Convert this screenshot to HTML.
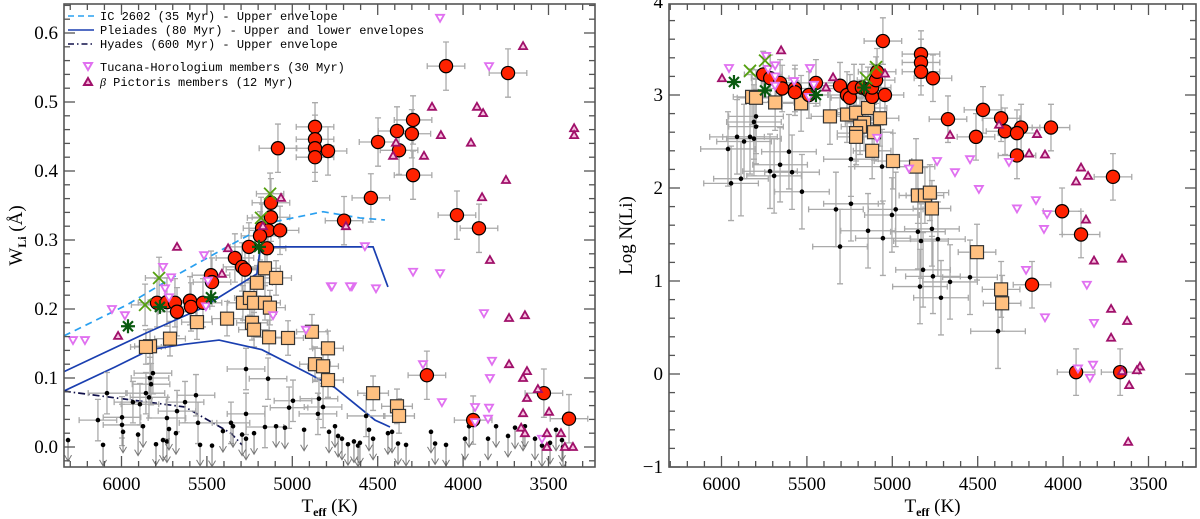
<!DOCTYPE html>
<html><head><meta charset="utf-8"><style>
html,body{margin:0;padding:0;background:#fff;}
svg{display:block;}
text{font-family:"Liberation Serif",serif;fill:#000;}
.leg{font-family:"Liberation Mono",monospace;font-size:12px;}
</style></head><body>
<svg id="fig" width="1200" height="519" viewBox="0 0 1200 519" xmlns="http://www.w3.org/2000/svg">
<defs>
<clipPath id="clipL"><rect x="64" y="4" width="531" height="463"/></clipPath>
<clipPath id="clipR"><rect x="669" y="4" width="527" height="463"/></clipPath>
</defs>
<g id="panelL"></g>
<g id="panelR"></g>
<g>
  <line x1="68" y1="16" x2="94" y2="16" stroke="#2aa0f0" stroke-width="1.6" stroke-dasharray="6,4"/>
  <text class="leg" x="100" y="20">IC 2602 (35 Myr) - Upper envelope</text>
  <line x1="68" y1="30" x2="94" y2="30" stroke="#1a3fb0" stroke-width="1.6"/>
  <text class="leg" x="100" y="34">Pleiades (80 Myr) - Upper and lower envelopes</text>
  <line x1="68" y1="44" x2="94" y2="44" stroke="#10104a" stroke-width="1.6" stroke-dasharray="6,3,1.5,3"/>
  <text class="leg" x="100" y="48">Hyades (600 Myr) - Upper envelope</text>
  <path d="M84,63 L92,63 L88,70 Z" fill="none" stroke="#e070f0" stroke-width="2"/>
  <text class="leg" x="100" y="71">Tucana-Horologium members (30 Myr)</text>
  <path d="M84,85 L92,85 L88,78 Z" fill="#f4b0d8" stroke="#a0106a" stroke-width="2"/>
  <text class="leg" x="100" y="86"><tspan font-family="Liberation Serif" font-style="italic">β</tspan> Pictoris members (12 Myr)</text>
</g>
</svg>
<script>
// ---------- LEFT PANEL DATA (Teff [K], W_Li [Å]) ----------
const redT_L = [4100,3737,4867,4867,4867,4867,4791,4498,4387,4293,4300,4375,4293,4540,5084,4036,3907,4212,3941,3527,3380,4697,
  5125,5125,5177,5142,5072,5189,5148,5254,5336,5294,5277,5476,5470,5792,5734,5687,5675,5599,5593,5523];
const redW_L = [0.552,0.542,0.464,0.446,0.433,0.420,0.429,0.442,0.458,0.474,0.454,0.430,0.394,0.361,0.433,0.336,0.317,0.104,0.039,0.078,0.041,0.328,
  0.354,0.333,0.317,0.314,0.314,0.306,0.288,0.290,0.274,0.261,0.257,0.249,0.239,0.209,0.210,0.209,0.196,0.212,0.203,0.209];
const orgT_L = [5160,5095,5207,5289,5248,5224,5160,5131,5382,5558,5236,5224,5136,5025,5716,5833,5857,4885,4791,4867,4820,4791,4527,4387,4375];
const orgW_L = [0.259,0.245,0.238,0.209,0.216,0.209,0.209,0.202,0.186,0.181,0.180,0.170,0.159,0.158,0.157,0.146,0.145,0.167,0.143,0.120,0.117,0.097,0.078,0.059,0.045];
const blkT_L = [5816,5833,5827,5857,5839,6085,5933,5892,5271,5142,4996,5019,5564,5628,5675,5734,6138,5997,5997,5271,4844,4820,4850,4568,5552,5359,5160];
const blkW_L = [0.107,0.100,0.091,0.078,0.072,0.078,0.065,0.062,0.113,0.099,0.067,0.057,0.075,0.065,0.052,0.042,0.039,0.043,0.032,0.048,0.070,0.058,0.048,0.045,0.035,0.035,0.029];
const limT_L = [6313,6108,5991,5903,5874,5798,5757,5734,5722,5681,5540,5470,5406,5347,5294,5271,5224,5095,5043,4931,4785,4750,4732,4709,4674,4639,4615,4604,4551,4527,4440,4416,4381,4334,4188,4164,4100,3989,3965,3854,3807,3737,3696,3649,3638,3579,3538,3491,3456,3421,3415];
const limW_L = [0.010,0.003,0.022,0.018,0.030,0.004,0.010,0.008,0.026,0.020,0.003,0.002,0.023,0.030,0.018,0.012,0.020,0.030,0.028,0.025,0.022,0.030,0.016,0.012,0.004,0.008,0.002,0.006,0.025,0.012,0.020,0.022,0.005,0.003,0.022,0.005,0.003,0.012,0.030,0.012,0.030,0.016,0.028,0.025,0.030,0.012,0.002,0.006,0.025,0.010,0.000];
const tucT_L = [4135,3848,4293,4135,4774,4651,4510,3878,4235,3831,3843,4124,3930,3848,3854,3930,3538,4920,5113,5506,5722,5745,5710,5757,5494,6056,5980,6284,6214,4575,5517,4768,4662];
const tucW_L = [0.622,0.552,0.254,0.252,0.233,0.233,0.230,0.194,0.120,0.125,0.100,0.065,0.058,0.057,0.041,0.036,0.012,0.170,0.191,0.204,0.217,0.230,0.246,0.261,0.241,0.200,0.191,0.155,0.155,0.291,0.278,0.233,0.233];
const picT_L = [4182,3919,3883,3649,3350,3350,4130,3954,4393,4410,4229,3749,3889,5675,5376,5172,5066,4686,5412,6020,3843,3731,3638,3731,3626,3649,3562,3626,3649,3497,3509,3509,3427,3404,3357,3660,3638];
const picW_L = [0.493,0.493,0.484,0.581,0.462,0.452,0.452,0.441,0.441,0.422,0.422,0.387,0.362,0.290,0.288,0.320,0.361,0.320,0.251,0.161,0.271,0.187,0.191,0.120,0.110,0.100,0.084,0.071,0.049,0.051,0.020,0.000,0.020,0.000,0.000,0.028,0.020];
const xT_L = [5130,5183,5780,5862];
const xW_L = [0.367,0.332,0.245,0.206];
const astT_L = [5195,5476,5775,5962];
const astW_L = [0.290,0.217,0.203,0.175];
const ic2602T = [6337,5968,5657,5382,5113,4820,4604,4458];
const ic2602W = [0.161,0.206,0.252,0.290,0.326,0.341,0.332,0.329];
const pleUpT = [6338,5857,5540,5207,5189,5113,4527,4440];
const pleUpW = [0.109,0.165,0.200,0.251,0.286,0.290,0.290,0.232];
const pleLoT = [6338,6038,5833,5628,5429,5178,4909,4750,4516,4428];
const pleLoW = [0.081,0.116,0.141,0.149,0.155,0.141,0.107,0.086,0.039,0.029];
const hyaT = [6338,5628,5359,5294];
const hyaW = [0.081,0.058,0.020,0.003];
const xTicks = [6000,5500,5000,4500,4000,3500];
const yTicksL = [0.0,0.1,0.2,0.3,0.4,0.5,0.6];
const yTicksR = [-1,0,1,2,3,4];

// ---------- RIGHT PANEL DATA (Teff [K], log N(Li)) ----------
const redT_R = [5055,4832,4832,4832,4762,4674,4469,4510,4363,4340,4246,4270,4270,4071,3708,4006,3895,4182,3924,3666,
  5756,5715,5657,5645,5570,5570,5488,5447,5306,5265,5248,5224,5178,5142,5118,5118,5095,5089,5043];
const redL_R = [3.58,3.44,3.35,3.25,3.18,2.74,2.84,2.55,2.75,2.61,2.65,2.59,2.35,2.65,2.12,1.75,1.50,0.96,0.02,0.02,
  3.22,3.18,3.13,3.07,3.07,3.03,3.00,3.13,3.10,3.00,2.97,3.08,3.08,3.05,2.98,3.08,3.16,3.25,3.00];
const orgT_R = [5821,5798,5686,5534,5365,5265,5212,5142,5165,5189,5212,5212,5107,5072,5118,4996,4861,4850,4809,4780,4768,4504,4363,4357];
const orgL_R = [2.98,2.97,2.92,2.91,2.77,2.79,2.81,2.86,2.70,2.66,2.59,2.55,2.60,2.75,2.40,2.29,2.23,1.92,1.92,1.95,1.78,1.31,0.91,0.76];
const blkT_R = [5962,5944,5886,5909,5868,5833,5810,5810,5798,5798,5716,5692,5657,5605,5587,5529,5330,5242,5242,5142,5060,5055,5002,4980,5306,4850,4768,4733,4832,4820,4762,4662,4545,4838,4715,4381];
const blkL_R = [2.42,2.05,2.10,2.55,2.50,2.55,2.53,2.71,2.77,2.66,2.18,2.13,2.25,2.39,2.17,1.96,1.77,2.31,1.83,1.54,2.23,1.46,1.71,1.77,1.37,1.53,1.56,1.45,1.43,1.12,1.05,0.99,1.04,0.94,0.82,0.46];
const tucT_R = [5956,5739,5727,5686,5686,5482,5575,5459,5488,5686,5089,4902,4738,4633,4545,4493,4317,4159,4270,4094,4112,4217,3861,4106,3819,3825,3843,3913];
const tucL_R = [3.29,3.42,3.28,3.32,3.20,3.29,3.15,3.11,2.98,3.10,2.54,2.21,2.29,2.17,2.31,1.99,2.28,1.87,1.78,1.72,1.56,1.12,0.96,0.61,0.55,0.10,-0.04,0.06];
const picT_R = [5997,5651,5347,5388,5043,4662,4375,4153,4199,4106,3895,3854,3924,3866,3819,3655,3719,3719,3625,3550,3568,3655,3613,3619];
const picL_R = [3.18,3.48,3.19,3.08,3.23,2.57,2.68,2.58,2.37,2.36,2.22,2.13,2.07,1.66,1.22,1.24,0.70,0.39,0.57,0.08,0.04,0.03,-0.12,-0.73];
const xT_R = [5833,5745,5095,5153];
const xL_R = [3.26,3.37,3.30,3.18];
const astT_R = [5927,5745,5447,5165];
const astL_R = [3.14,3.05,3.00,3.08];

// ---------- AXES ----------
const SVGNS = "http://www.w3.org/2000/svg";
function xL(T){ return 121.5 + (6000 - T) * 0.1708; }
function xR(T){ return 721.5 + (6000 - T) * 0.1708; }
function yL(W){ return 447 - W * 690; }
function yR(L){ return 374 - L * 93; }

function mk(parent, tag, attrs){
  const e = document.createElementNS(SVGNS, tag);
  for (const k in attrs) e.setAttribute(k, attrs[k]);
  parent.appendChild(e);
  return e;
}

function drawAxes(g, X, Y, x0, x1, y0, y1, yMin, yMax, yMaj, yMin2, yTicks, yFmt, titleX, titleHTML){
  const ax = mk(g, 'g', {});
  
  
  mk(ax, 'rect', {x:x0, y:y0, width:x1-x0, height:y1-y0, fill:'none', stroke:'#555', 'stroke-width':1.6});
  // x ticks
  for (let T = 3300; T <= 6300; T += 100){
    const x = X(T); if (x < x0 || x > x1) continue;
    const big = T % 500 === 0;
    const l = big ? 11 : 6;
    mk(ax, 'line', {x1:x, y1:y1, x2:x, y2:y1-l, stroke:'#555', 'stroke-width':1.3});
    mk(ax, 'line', {x1:x, y1:y0, x2:x, y2:y0+l, stroke:'#555', 'stroke-width':1.3});
  }
  xTicks.forEach(T => {
    const t = mk(ax, 'text', {x:X(T), y:y1+23, 'text-anchor':'middle', 'font-size':19});
    t.textContent = T;
    
    
  });
  // y ticks
  const nMin = Math.round((yMax - yMin) / yMin2);
  for (let i = 0; i <= nMin; i++){
    const v = yMin + i * yMin2;
    const y = Y(v); if (y < y0 - 0.5 || y > y1 + 0.5) continue;
    const big = Math.abs(v / yMaj - Math.round(v / yMaj)) < 1e-6;
    const l = big ? 11 : 6;
    mk(ax, 'line', {x1:x0, y1:y, x2:x0+l, y2:y, stroke:'#555', 'stroke-width':1.3});
    mk(ax, 'line', {x1:x1, y1:y, x2:x1-l, y2:y, stroke:'#555', 'stroke-width':1.3});
  }
  yTicks.forEach(v => {
    const t = mk(ax, 'text', {x:x0-6, y:Y(v)+6, 'text-anchor':'end', 'font-size':19});
    t.textContent = yFmt(v);
    
    
  });
  const xt = mk(ax, 'text', {x:(x0+x1)/2, y:512, 'text-anchor':'middle', 'font-size':19});
  xt.innerHTML = 'T<tspan font-size="12" dy="4" font-weight="bold">eff</tspan><tspan dy="-4"> (K)</tspan>';
  
  
  const yt = mk(ax, 'text', {x:titleX, y:(y0+y1)/2, 'text-anchor':'middle', 'font-size':19, transform:`rotate(-90 ${titleX} ${(y0+y1)/2})`});
  yt.innerHTML = titleHTML;
  
  
}

function errbars(g, X, Y, Ts, Vs, dT, dV){
  const grp = mk(g, 'g', {stroke:'#aaa', 'stroke-width':1.3, fill:'none'});
  
  
  Ts.forEach((T, i) => {
    const x = X(T), y = Y(Vs[i]);
    const xa = X(T + dT), xb = X(T - dT), ya = Y(Vs[i] + dV), yb = Y(Vs[i] - dV);
    mk(grp, 'path', {d:`M${xa},${y}H${xb}M${xa},${y-3}V${y+3}M${xb},${y-3}V${y+3}M${x},${ya}V${yb}M${x-3},${ya}H${x+3}M${x-3},${yb}H${x+3}`});
  });
}

function line(g, X, Y, Ts, Vs, color, dash, name){
  const d = Ts.map((T, i) => (i ? 'L' : 'M') + X(T) + ',' + Y(Vs[i])).join('');
  const p = mk(g, 'path', {d:d, fill:'none', stroke:color, 'stroke-width':1.7});
  if (dash) p.setAttribute('stroke-dasharray', dash);
  
  
}

function circles(g, X, Y, Ts, Vs){
  Ts.forEach((T, i) => {
    const c = mk(g, 'circle', {cx:X(T), cy:Y(Vs[i]), r:6.6, fill:'#ff2200', stroke:'#000', 'stroke-width':1.2});
    
    
  });
}
function squares(g, X, Y, Ts, Vs){
  Ts.forEach((T, i) => {
    const s = mk(g, 'rect', {x:X(T)-6.5, y:Y(Vs[i])-6.5, width:13, height:13, fill:'#ffc080', stroke:'#333', 'stroke-width':1.2});
    
    
  });
}
function dots(g, X, Y, Ts, Vs, dT, dV){
  errbars(g, X, Y, Ts, Vs, dT, dV);
  Ts.forEach((T, i) => {
    const c = mk(g, 'circle', {cx:X(T), cy:Y(Vs[i]), r:2.3, fill:'#000'});
    
    
  });
}
function limits(g, X, Y, Ts, Vs){
  Ts.forEach((T, i) => {
    const x = X(T), y = Y(Vs[i]);
    const a = mk(g, 'path', {d:`M${x},${y}V${y+21}M${x-3.5},${y+15}L${x},${y+21}L${x+3.5},${y+15}`, fill:'none', stroke:'#777', 'stroke-width':1});
    
    
    const c = mk(g, 'circle', {cx:x, cy:y, r:2.3, fill:'#000'});
    
    
  });
}
function tuc(g, X, Y, Ts, Vs){
  Ts.forEach((T, i) => {
    const x = X(T), y = Y(Vs[i]);
    const p = mk(g, 'path', {d:`M${x-4},${y-3} L${x+4},${y-3} L${x},${y+4} Z`, fill:'#fff', stroke:'#e070f0', 'stroke-width':1.8});
    
    
  });
}
function pic(g, X, Y, Ts, Vs){
  Ts.forEach((T, i) => {
    const x = X(T), y = Y(Vs[i]);
    const p = mk(g, 'path', {d:`M${x-4},${y+3} L${x+4},${y+3} L${x},${y-4} Z`, fill:'#f6c0e0', stroke:'#a0106a', 'stroke-width':1.8});
    
    
  });
}
function crosses(g, X, Y, Ts, Vs){
  Ts.forEach((T, i) => {
    const x = X(T), y = Y(Vs[i]);
    const p = mk(g, 'path', {d:`M${x-6},${y-6}L${x+6},${y+6}M${x-6},${y+6}L${x+6},${y-6}`, stroke:'#55a010', 'stroke-width':1.8});
    
    
  });
}
function asterisks(g, X, Y, Ts, Vs){
  Ts.forEach((T, i) => {
    const x = X(T), y = Y(Vs[i]);
    const p = mk(g, 'path', {d:`M${x-7},${y}H${x+7}M${x},${y-7}V${y+7}M${x-5},${y-5}L${x+5},${y+5}M${x-5},${y+5}L${x+5},${y-5}`, stroke:'#0a5a10', 'stroke-width':2.2});
    
    
  });
}

// ----- left panel -----
const gL = document.getElementById('panelL');
const dL = mk(gL, 'g', {'clip-path':'url(#clipL)'});
errbars(dL, xL, yL, redT_L, redW_L, 110, 0.035);
errbars(dL, xL, yL, orgT_L, orgW_L, 90, 0.025);
errbars(dL, xL, yL, xT_L, xW_L, 80, 0.03);
line(dL, xL, yL, ic2602T, ic2602W, '#2aa0f0', '7,5', 'ic2602-envelope');
line(dL, xL, yL, pleUpT, pleUpW, '#1a3fb0', null, 'pleiades-upper-envelope');
line(dL, xL, yL, pleLoT, pleLoW, '#1a3fb0', null, 'pleiades-lower-envelope');
line(dL, xL, yL, hyaT, hyaW, '#10104a', '7,3,1.5,3', 'hyades-envelope');
dots(dL, xL, yL, blkT_L, blkW_L, 110, 0.03);
limits(dL, xL, yL, limT_L, limW_L);
squares(dL, xL, yL, orgT_L, orgW_L);
circles(dL, xL, yL, redT_L, redW_L);
tuc(dL, xL, yL, tucT_L, tucW_L);
pic(dL, xL, yL, picT_L, picW_L);
crosses(dL, xL, yL, xT_L, xW_L);
asterisks(dL, xL, yL, astT_L, astW_L);
drawAxes(gL, xL, yL, 64, 595, 4, 467, -0.04, 0.66, 0.1, 0.02, yTicksL, v => v.toFixed(1), 22,
  'W<tspan font-size="12" dy="4" font-weight="bold">Li</tspan><tspan dy="-4"> (Å)</tspan>');

// ----- right panel -----
const gR = document.getElementById('panelR');
const dR = mk(gR, 'g', {'clip-path':'url(#clipR)'});
errbars(dR, xR, yR, redT_R, redL_R, 110, 0.25);
errbars(dR, xR, yR, orgT_R, orgL_R, 110, 0.3);
dots(dR, xR, yR, blkT_R, blkL_R, 160, 0.4);
squares(dR, xR, yR, orgT_R, orgL_R);
circles(dR, xR, yR, redT_R, redL_R);
tuc(dR, xR, yR, tucT_R, tucL_R);
pic(dR, xR, yR, picT_R, picL_R);
crosses(dR, xR, yR, xT_R, xL_R);
asterisks(dR, xR, yR, astT_R, astL_R);
drawAxes(gR, xR, yR, 669, 1196, 4, 467, -1.0, 4.0, 1, 0.2, yTicksR, v => v.toFixed(0).replace('-', '−'), 632, 'Log N(Li)');
</script>
</body></html>
